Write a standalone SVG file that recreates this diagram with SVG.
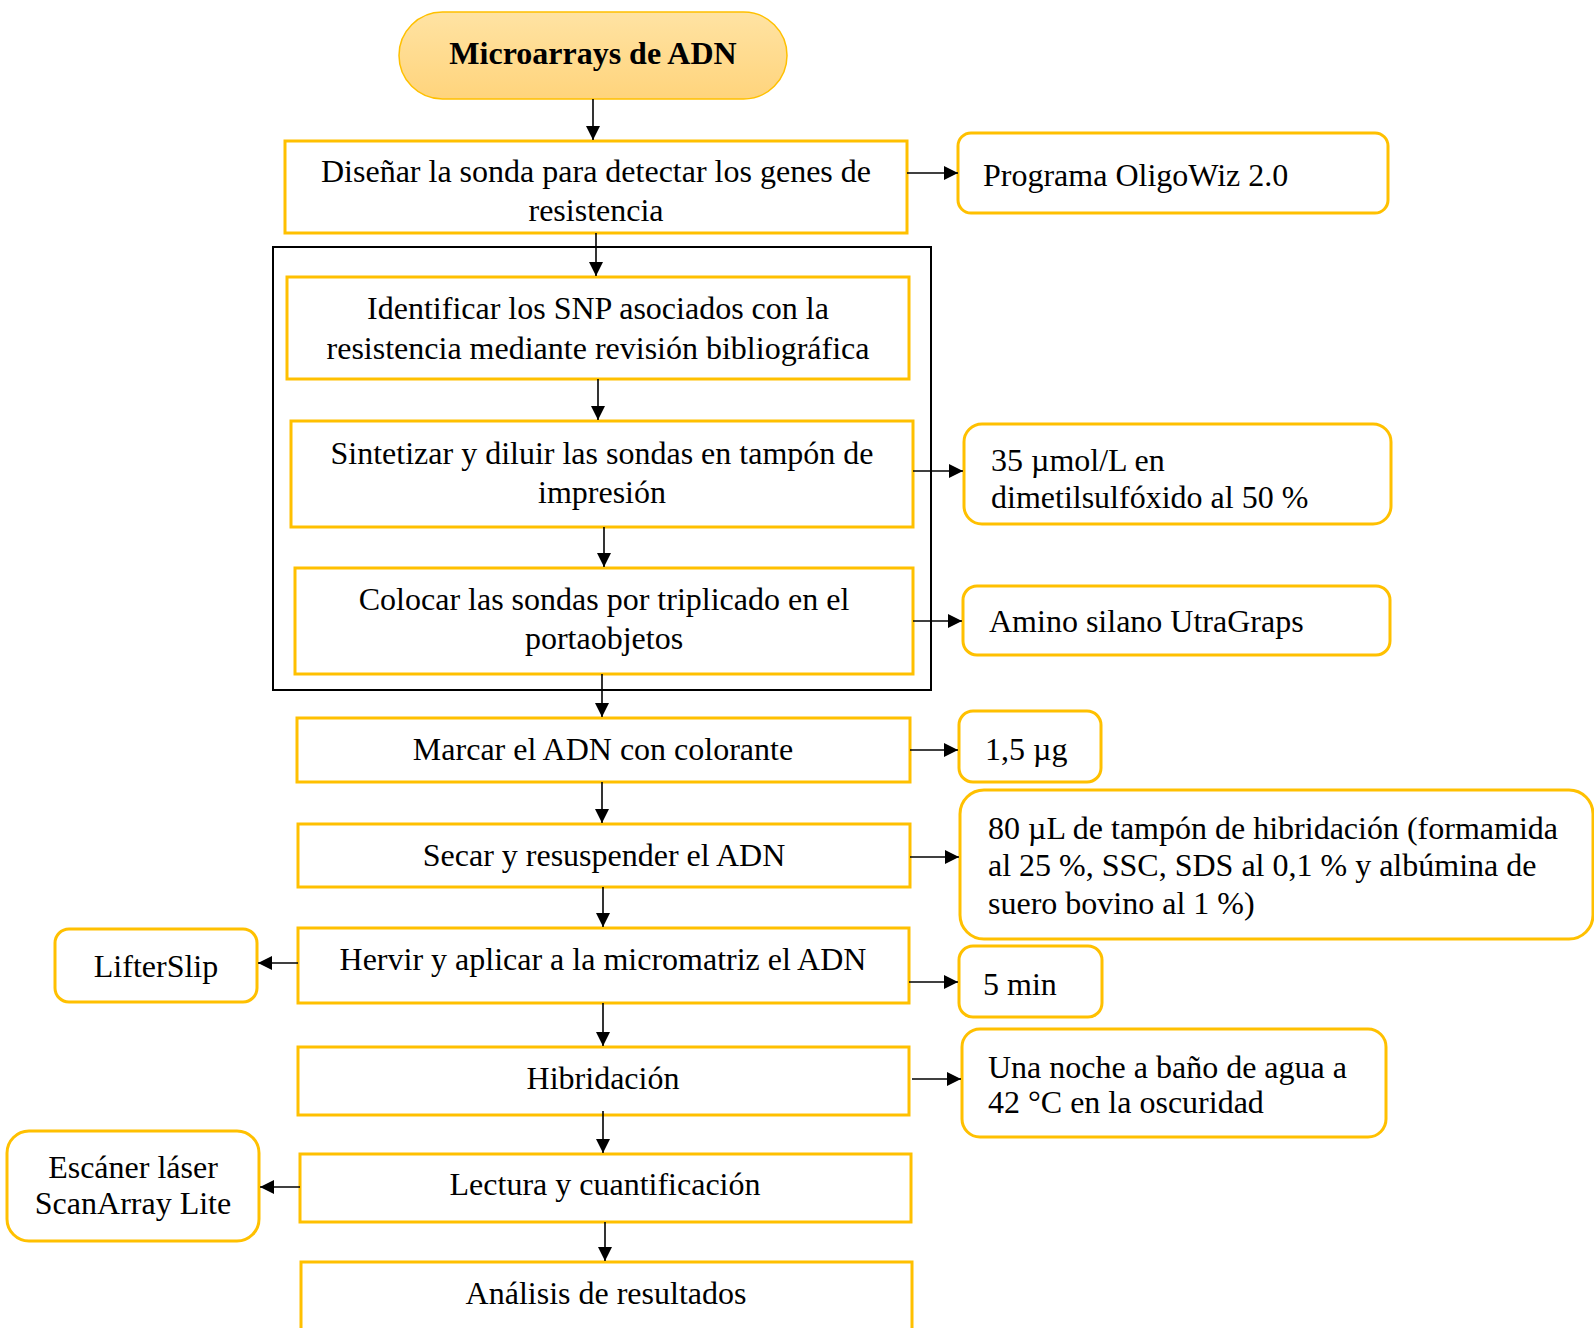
<svg xmlns="http://www.w3.org/2000/svg" width="1594" height="1328" viewBox="0 0 1594 1328">
  <defs>
    <linearGradient id="pillFill" x1="0" y1="0" x2="0" y2="1">
      <stop offset="0" stop-color="#FFE3A3"/>
      <stop offset="1" stop-color="#FFD47C"/>
    </linearGradient>
    <marker id="arrow" markerUnits="userSpaceOnUse" markerWidth="14" markerHeight="14" refX="14" refY="7" orient="auto">
      <path d="M0,0 L14,7 L0,14 z" fill="#000"/>
    </marker>
    <style>
      .step { fill: #fff; stroke: #FFC000; stroke-width: 3; }
      .note { fill: #fff; stroke: #FFC000; stroke-width: 3; }
      .frame { fill: none; stroke: #000; stroke-width: 2; }
      .txt { font-family: "Liberation Serif", "Times New Roman", serif; font-size: 32px; fill: #000; }
      .c { text-anchor: middle; }
      .title { font-family: "Liberation Serif", "Times New Roman", serif; font-size: 32px; font-weight: bold; text-anchor: middle; fill: #000; }
      .conn line { stroke: #000; stroke-width: 1.6; marker-end: url(#arrow); }
    </style>
  </defs>
  <rect width="1594" height="1328" fill="#fff"/>

  <!-- grouping frame around the probe-preparation steps -->
  <rect class="frame" x="273" y="247" width="658" height="443"/>

  <g id="start">
    <rect x="399" y="12" width="388" height="87" rx="43.5" fill="url(#pillFill)" stroke="#FFC000" stroke-width="1.5"/>
    <text class="title" x="593" y="64">Microarrays de ADN</text>
  </g>

  <g id="disenar">
    <rect class="step" x="285" y="141" width="622" height="92"/>
    <text class="txt c" x="596" y="182">Diseñar la sonda para detectar los genes de</text>
    <text class="txt c" x="596" y="221">resistencia</text>
  </g>
  <g id="oligowiz">
    <rect class="note" x="958" y="133" width="430" height="80" rx="13"/>
    <text class="txt" x="983" y="186">Programa OligoWiz 2.0</text>
  </g>

  <g id="identificar">
    <rect class="step" x="287" y="277" width="622" height="102"/>
    <text class="txt c" x="598" y="319">Identificar los SNP asociados con la</text>
    <text class="txt c" x="598" y="359">resistencia mediante revisión bibliográfica</text>
  </g>

  <g id="sintetizar">
    <rect class="step" x="291" y="421" width="622" height="106"/>
    <text class="txt c" x="602" y="464">Sintetizar y diluir las sondas en tampón de</text>
    <text class="txt c" x="602" y="503">impresión</text>
  </g>
  <g id="concentracion">
    <rect class="note" x="964" y="424" width="427" height="100" rx="18"/>
    <text class="txt" x="991" y="471">35 µmol/L en</text>
    <text class="txt" x="991" y="508">dimetilsulfóxido al 50 %</text>
  </g>

  <g id="colocar">
    <rect class="step" x="295" y="568" width="618" height="106"/>
    <text class="txt c" x="604" y="610">Colocar las sondas por triplicado en el</text>
    <text class="txt c" x="604" y="649">portaobjetos</text>
  </g>
  <g id="aminosilano">
    <rect class="note" x="963" y="586" width="427" height="69" rx="14"/>
    <text class="txt" x="989" y="632">Amino silano UtraGraps</text>
  </g>

  <g id="marcar">
    <rect class="step" x="297" y="718" width="613" height="64"/>
    <text class="txt c" x="603" y="760">Marcar el ADN con colorante</text>
  </g>
  <g id="cantidad">
    <rect class="note" x="959" y="711" width="142" height="71" rx="14"/>
    <text class="txt" x="985" y="760">1,5 µg</text>
  </g>

  <g id="secar">
    <rect class="step" x="298" y="824" width="612" height="63"/>
    <text class="txt c" x="604" y="866">Secar y resuspender el ADN</text>
  </g>
  <g id="tampon">
    <rect class="note" x="960" y="790" width="633" height="149" rx="24"/>
    <text class="txt" x="988" y="839">80 µL de tampón de hibridación (formamida</text>
    <text class="txt" x="988" y="876">al 25 %, SSC, SDS al 0,1 % y albúmina de</text>
    <text class="txt" x="988" y="914">suero bovino al 1 %)</text>
  </g>

  <g id="hervir">
    <rect class="step" x="298" y="928" width="611" height="75"/>
    <text class="txt c" x="603" y="970">Hervir y aplicar a la micromatriz el ADN</text>
  </g>
  <g id="lifterslip">
    <rect class="note" x="55" y="929" width="202" height="73" rx="14"/>
    <text class="txt c" x="156" y="977">LifterSlip</text>
  </g>
  <g id="tiempo">
    <rect class="note" x="959" y="946" width="143" height="71" rx="14"/>
    <text class="txt" x="983" y="995">5 min</text>
  </g>

  <g id="hibridacion">
    <rect class="step" x="298" y="1047" width="611" height="68"/>
    <text class="txt c" x="603" y="1089">Hibridación</text>
  </g>
  <g id="condiciones">
    <rect class="note" x="962" y="1029" width="424" height="108" rx="18"/>
    <text class="txt" x="988" y="1078">Una noche a baño de agua a</text>
    <text class="txt" x="988" y="1113">42 °C en la oscuridad</text>
  </g>

  <g id="lectura">
    <rect class="step" x="300" y="1154" width="611" height="68"/>
    <text class="txt c" x="605" y="1195">Lectura y cuantificación</text>
  </g>
  <g id="escaner">
    <rect class="note" x="7" y="1131" width="252" height="110" rx="22"/>
    <text class="txt c" x="133" y="1178">Escáner láser</text>
    <text class="txt c" x="133" y="1214">ScanArray Lite</text>
  </g>

  <g id="analisis">
    <rect class="step" x="301" y="1262" width="611" height="90"/>
    <text class="txt c" x="606" y="1304">Análisis de resultados</text>
  </g>

  <g id="connectors" class="conn">
    <line x1="593" y1="99" x2="593" y2="140"/>
    <line x1="907" y1="173" x2="958" y2="173"/>
    <line x1="596" y1="233" x2="596" y2="276"/>
    <line x1="598" y1="379" x2="598" y2="420"/>
    <line x1="913" y1="471" x2="963" y2="471"/>
    <line x1="604" y1="527" x2="604" y2="567"/>
    <line x1="913" y1="621" x2="962" y2="621"/>
    <line x1="602" y1="674" x2="602" y2="717"/>
    <line x1="910" y1="750" x2="958" y2="750"/>
    <line x1="602" y1="782" x2="602" y2="823"/>
    <line x1="910" y1="857" x2="959" y2="857"/>
    <line x1="603" y1="887" x2="603" y2="927"/>
    <line x1="298" y1="963" x2="258" y2="963"/>
    <line x1="909" y1="982" x2="958" y2="982"/>
    <line x1="603" y1="1003" x2="603" y2="1046"/>
    <line x1="912" y1="1079" x2="961" y2="1079"/>
    <line x1="603" y1="1111" x2="603" y2="1153"/>
    <line x1="300" y1="1187" x2="260" y2="1187"/>
    <line x1="605" y1="1222" x2="605" y2="1261"/>
  </g>
</svg>
